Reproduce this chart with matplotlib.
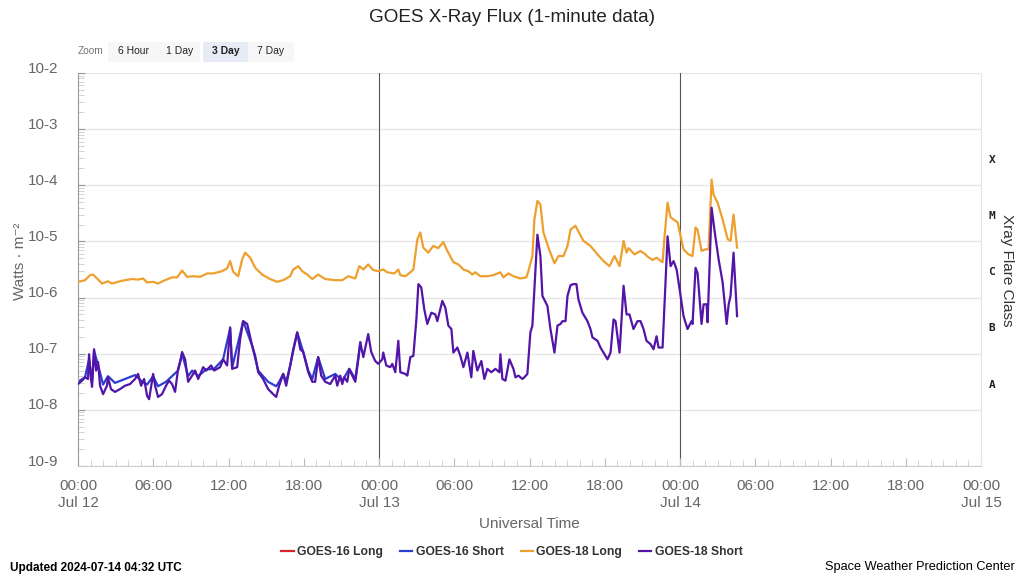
import numpy as np
import matplotlib
matplotlib.use("Agg")
import matplotlib.pyplot as plt
from matplotlib.patches import FancyBboxPatch
from matplotlib.transforms import blended_transform_factory, ScaledTranslation

plt.rcParams['font.family'] = ['Liberation Sans', 'DejaVu Sans']

# hours since 2024-07-12 00:00 UTC, flux as log10(W/m^2)
long18_hours = [0.0, 0.56, 0.96, 1.2, 1.52, 1.92, 2.39, 2.71, 3.51, 4.31, 4.79, 5.19, 5.51, 5.99,
                6.38, 6.94, 7.5, 7.9, 8.3, 8.7, 9.18, 9.74, 10.3, 10.77, 11.49, 11.89, 12.13, 12.37,
                12.77, 13.09, 13.33, 13.73, 14.13, 14.68, 15.32, 15.88, 16.36, 16.92, 17.16, 17.56,
                17.88, 18.28, 18.68, 19.15, 19.71, 20.51, 21.07, 21.55, 22.11, 22.43, 22.75, 23.14,
                23.54, 23.94, 24.34, 24.66, 25.22, 25.54, 25.7, 26.1, 26.5, 26.74, 27.06, 27.29,
                27.53, 27.93, 28.33, 28.73, 29.13, 29.45, 29.93, 30.33, 30.73, 31.13, 31.44, 31.68,
                32.08, 32.64, 33.12, 33.68, 33.92, 34.32, 34.72, 35.28, 35.75, 35.91, 36.23, 36.39,
                36.63, 36.87, 37.11, 37.51, 37.99, 38.31, 38.71, 39.03, 39.27, 39.66, 39.9, 40.3,
                40.86, 41.42, 41.9, 42.38, 42.78, 43.18, 43.5, 43.74, 43.9, 44.37, 44.85, 45.25,
                45.41, 45.81, 46.13, 46.61, 46.77, 47.01, 47.25, 47.49, 47.81, 48.05, 48.28, 48.68,
                49.0, 49.24, 49.4, 49.72, 50.04, 50.28, 50.52, 50.68, 51.0, 51.4, 51.8, 52.03,
                52.27, 52.55]
long18_log = [-5.72, -5.69, -5.60, -5.59, -5.66, -5.75, -5.71, -5.75, -5.70, -5.67, -5.68, -5.66,
              -5.73, -5.72, -5.75, -5.69, -5.64, -5.64, -5.52, -5.63, -5.62, -5.63, -5.57, -5.57,
              -5.53, -5.48, -5.35, -5.54, -5.62, -5.32, -5.20, -5.29, -5.47, -5.59, -5.67, -5.72,
              -5.69, -5.62, -5.50, -5.44, -5.53, -5.59, -5.67, -5.59, -5.67, -5.69, -5.69, -5.62,
              -5.66, -5.44, -5.50, -5.41, -5.51, -5.53, -5.50, -5.55, -5.57, -5.50, -5.60, -5.62,
              -5.55, -5.50, -4.96, -4.84, -5.11, -5.20, -5.08, -5.12, -5.01, -5.17, -5.37, -5.41,
              -5.50, -5.53, -5.59, -5.55, -5.62, -5.62, -5.60, -5.55, -5.64, -5.57, -5.62, -5.66,
              -5.64, -5.53, -5.26, -4.61, -4.28, -4.34, -4.84, -5.11, -5.39, -5.26, -5.26, -5.08,
              -4.79, -4.72, -4.82, -4.99, -5.08, -5.23, -5.35, -5.44, -5.26, -5.44, -4.99, -5.20,
              -5.12, -5.23, -5.17, -5.23, -5.27, -5.33, -5.29, -5.37, -4.91, -4.31, -4.57, -4.61,
              -4.66, -4.91, -5.14, -5.23, -5.26, -4.75, -4.79, -5.17, -5.14, -5.14, -3.90, -4.17,
              -4.31, -4.61, -4.96, -4.99, -4.52, -5.11]

short18_hours = [0.0, 0.32, 0.56, 0.8, 0.88, 1.04, 1.12, 1.28, 1.44, 1.6, 1.76, 2.0, 2.31, 2.39,
                 2.63, 2.95, 3.35, 3.75, 4.15, 4.55, 4.79, 5.03, 5.27, 5.51, 5.67, 5.99, 6.15, 6.38,
                 6.7, 7.02, 7.26, 7.5, 7.74, 7.98, 8.14, 8.3, 8.54, 8.78, 9.1, 9.34, 9.58, 9.98,
                 10.22, 10.61, 10.85, 11.33, 11.57, 11.89, 12.13, 12.29, 12.69, 12.93, 13.17, 13.49,
                 13.89, 14.13, 14.37, 14.76, 15.16, 15.56, 15.8, 16.04, 16.36, 16.6, 16.92, 17.16,
                 17.48, 17.72, 17.96, 18.36, 18.68, 18.91, 19.15, 19.39, 19.71, 20.11, 20.51, 20.67,
                 20.91, 21.07, 21.23, 21.47, 21.63, 21.87, 22.11, 22.35, 22.51, 22.75, 23.06, 23.14,
                 23.38, 23.7, 23.94, 24.26, 24.34, 24.58, 24.9, 25.06, 25.3, 25.54, 25.7, 26.1,
                 26.26, 26.5, 26.74, 26.98, 27.14, 27.37, 27.61, 27.85, 28.17, 28.49, 28.65, 29.05,
                 29.29, 29.53, 29.77, 29.93, 30.25, 30.49, 30.73, 31.05, 31.36, 31.52, 31.84, 32.16,
                 32.4, 32.64, 32.96, 33.28, 33.6, 33.68, 33.84, 34.08, 34.4, 34.72, 34.88, 35.12,
                 35.43, 35.59, 35.83, 36.07, 36.23, 36.39, 36.63, 36.87, 37.03, 37.43, 37.67, 37.99,
                 38.23, 38.47, 38.63, 38.87, 39.03, 39.27, 39.5, 39.74, 39.9, 40.22, 40.62, 40.86,
                 41.02, 41.42, 41.66, 41.9, 42.22, 42.46, 42.7, 42.86, 43.18, 43.5, 43.74, 43.97,
                 44.29, 44.61, 44.85, 45.09, 45.33, 45.65, 45.89, 46.13, 46.29, 46.61, 46.77, 47.01,
                 47.25, 47.49, 47.73, 47.97, 48.28, 48.6, 48.92, 49.0, 49.24, 49.4, 49.72, 49.88,
                 50.12, 50.2, 50.52, 50.76, 51.08, 51.4, 51.72, 51.88, 52.03, 52.27, 52.55]
short18_log = [-7.54, -7.48, -7.42, -7.45, -7.01, -7.45, -7.59, -6.92, -7.30, -7.15, -7.57, -7.72,
               -7.57, -7.42, -7.63, -7.68, -7.63, -7.57, -7.54, -7.45, -7.36, -7.57, -7.45, -7.75,
               -7.81, -7.36, -7.57, -7.77, -7.72, -7.57, -7.48, -7.54, -7.68, -7.27, -7.15, -6.97,
               -7.10, -7.50, -7.39, -7.30, -7.45, -7.24, -7.30, -7.21, -7.30, -7.24, -7.10, -7.21,
               -6.53, -7.27, -7.24, -6.74, -6.42, -6.47, -6.86, -7.04, -7.33, -7.45, -7.63, -7.72,
               -7.77, -7.57, -7.36, -7.57, -7.21, -6.92, -6.62, -6.92, -6.97, -7.33, -7.50, -7.50,
               -7.06, -7.39, -7.50, -7.54, -7.39, -7.57, -7.39, -7.54, -7.42, -7.50, -7.27, -7.39,
               -7.50, -7.10, -6.80, -7.06, -6.74, -6.65, -6.97, -7.13, -7.18, -7.10, -6.98, -7.21,
               -7.24, -7.18, -7.33, -6.77, -7.33, -7.36, -7.39, -7.06, -7.04, -6.39, -5.76, -5.82,
               -6.21, -6.47, -6.27, -6.30, -6.42, -6.06, -6.18, -6.50, -6.56, -6.98, -6.89,
               -7.04, -7.24, -6.98, -7.42, -6.95, -7.30, -7.13, -7.45, -7.27, -7.33, -7.27, -7.33,
               -7.01, -7.45, -7.48, -7.10, -7.27, -7.42, -7.39, -7.45, -7.42, -7.36, -6.62, -6.50,
               -5.85, -4.88, -5.26, -5.97, -6.15, -6.56, -6.98, -6.50, -6.47, -6.42, -6.42, -5.97,
               -5.78, -5.76, -5.76, -6.03, -6.27, -6.42, -6.56, -6.71, -6.77, -6.89, -6.98, -7.10,
               -6.98, -6.39, -6.42, -6.98, -5.79, -6.30, -6.30, -6.56, -6.42, -6.42, -6.56,
               -6.77, -6.83, -6.92, -6.69, -6.89, -6.89, -6.09, -4.91, -5.44, -5.35, -5.50, -5.85,
               -6.33, -6.56, -6.42, -6.47, -5.47, -5.56, -6.47, -6.12, -6.12, -6.44, -4.40, -4.82,
               -5.32, -5.73, -6.47, -6.12, -5.97, -5.20, -6.33]

short16_hours = [0.0, 0.56, 0.88, 1.12, 1.28, 1.6, 2.0, 2.39, 2.95, 3.75, 4.55, 5.03, 5.51, 5.99,
                 6.38, 7.02, 7.5, 7.98, 8.3, 8.78, 9.1, 9.58, 10.22, 10.85, 11.57, 12.13, 12.29,
                 13.17, 13.89, 14.37, 14.76, 15.16, 15.8, 16.04, 16.36, 16.6, 16.92, 17.48, 17.96,
                 18.36, 18.68, 19.15, 19.71, 20.51, 21.07, 21.63, 22.11, 22.51]
short16_log = [-7.50, -7.42, -7.10, -7.50, -6.95, -7.20, -7.55, -7.40, -7.52, -7.45, -7.38, -7.48,
               -7.55, -7.40, -7.58, -7.50, -7.40, -7.30, -7.00, -7.40, -7.30, -7.40, -7.28, -7.27,
               -7.10, -6.55, -7.25, -6.42, -6.86, -7.30, -7.40, -7.50, -7.58, -7.50, -7.36, -7.50,
               -7.21, -6.62, -6.97, -7.30, -7.45, -7.06, -7.45, -7.36, -7.48, -7.27, -7.45, -6.80]

x_ticks = [0, 6, 12, 18, 24, 30, 36, 42, 48, 54, 60, 66, 72]
x_labels = ["00:00\nJul 12", "06:00", "12:00", "18:00", "00:00\nJul 13", "06:00", "12:00",
            "18:00", "00:00\nJul 14", "06:00", "12:00", "18:00", "00:00\nJul 15"]
y_exps = [-9, -8, -7, -6, -5, -4, -3, -2]
flare_classes = ["A", "B", "C", "M", "X"]
series_names = ["GOES-16 Long", "GOES-16 Short", "GOES-18 Long", "GOES-18 Short"]
series_colors = ["#d7262b", "#2b3fcf", "#eda02e", "#5314a8"]

grey = "#666666"
fig = plt.figure(figsize=(10.24, 5.76), dpi=100)
ax = fig.add_axes([78 / 1024, 1 - 466 / 576, 903 / 1024, 393 / 576])

ax.set_yscale("log")
ax.set_ylim(1e-9, 1e-2)
ax.set_xlim(0, 72)

for e in y_exps:
    ax.axhline(10.0 ** e, color="#e6e6e6", lw=1, zorder=0)
for d in (24, 48):
    ax.axvline(d, color="#555555", lw=0.8, zorder=1)

ax.plot(short16_hours, 10 ** np.array(short16_log), color=series_colors[1], lw=1.6, zorder=2)
ax.plot(long18_hours, 10 ** np.array(long18_log), color=series_colors[2], lw=1.6, zorder=3)
ax.plot(short18_hours, 10 ** np.array(short18_log), color=series_colors[3], lw=1.6, zorder=4)

ax.set_yticks([10.0 ** e for e in y_exps])
ax.set_yticklabels(["10%d" % e for e in y_exps], fontsize=11, color=grey)
ax.yaxis.set_minor_locator(matplotlib.ticker.LogLocator(base=10, subs=np.arange(2, 10)))
ax.yaxis.set_minor_formatter(matplotlib.ticker.NullFormatter())
ax.tick_params(axis="y", which="major", direction="in", length=5, color="#999999", pad=14)
ax.tick_params(axis="y", which="minor", direction="in", length=4, color="#cccccc")
# labels sit a little above their gridline, as in the original
lift = ScaledTranslation(0, 0.06, fig.dpi_scale_trans)
for lab in ax.get_yticklabels():
    lab.set_transform(lab.get_transform() + lift)

ax.set_xticks(x_ticks)
ax.set_xticklabels(x_labels, fontsize=11, color=grey, linespacing=1.3)
ax.set_xticks(np.arange(0, 73, 1), minor=True)
ax.tick_params(axis="x", which="major", direction="in", length=6, color="#bbbbbb", pad=9)
ax.tick_params(axis="x", which="minor", direction="in", length=4, color="#cccccc")

ax.spines["top"].set_visible(False)
ax.spines["left"].set_color("#999999")
ax.spines["bottom"].set_color("#cccccc")
ax.spines["right"].set_color("#e6e6e6")

ax.set_ylabel("Watts \u00b7 m\u207b\u00b2", fontsize=11, color=grey)
ax.yaxis.set_label_coords(-0.056, 0.52)
ax.set_xlabel("Universal Time", fontsize=11, color=grey)
ax.xaxis.set_label_coords(0.5, -0.13)
fig.text(0.5, 1 - 17 / 576, "GOES X-Ray Flux (1-minute data)", ha="center", va="center",
         fontsize=13.6, color="#222222")

tr = blended_transform_factory(ax.transAxes, ax.transData)
for i, c in enumerate(flare_classes):
    ax.text(1.012, 10 ** (-7.55 + i), c, transform=tr, ha="center", va="center",
            fontsize=8, fontweight="bold", family="DejaVu Sans Mono", color="#222222")
fig.text(1007 / 1024, 1 - 270 / 576, "Xray Flare Class", rotation=-90, ha="center", va="center",
         fontsize=11, color="#333333")

# zoom buttons
fig.text(78 / 1024, 1 - 51 / 576, "Zoom", fontsize=7.3, color="#777777", va="center")
buttons = [("6 Hour", 108, 52), ("1 Day", 160, 40), ("3 Day", 203, 45), ("7 Day", 248, 46)]
for label, bx, bw in buttons:
    sel = label == "3 Day"
    fig.patches.append(FancyBboxPatch((bx / 1024, 1 - 62 / 576), bw / 1024, 20 / 576,
                                      boxstyle="square,pad=0", transform=fig.transFigure,
                                      facecolor="#e6ebf5" if sel else "#f7f7f7",
                                      edgecolor="none", zorder=0))
    fig.text((bx + bw / 2) / 1024, 1 - 51 / 576, label, fontsize=7.5, ha="center", va="center",
             color="#222222", fontweight="bold" if sel else "normal")

# legend
handles = [plt.Line2D([], [], color=c, lw=1.6) for c in series_colors]
fig.legend(handles, series_names, loc="center", bbox_to_anchor=(0.5, 1 - 552 / 576), ncol=4,
           frameon=False, handlelength=1.0, handletextpad=0.3, columnspacing=1.4,
           prop={"size": 8.7, "weight": "bold"}, labelcolor="#333333")

fig.text(10 / 1024, 1 - 568 / 576, "Updated 2024-07-14 04:32 UTC", fontsize=8.5, fontweight="bold",
         va="center", color="#000000")
fig.text(1015 / 1024, 1 - 567 / 576, "Space Weather Prediction Center", fontsize=9.2,
         ha="right", va="center", color="#000000")

fig.savefig("out.png", dpi=100)
